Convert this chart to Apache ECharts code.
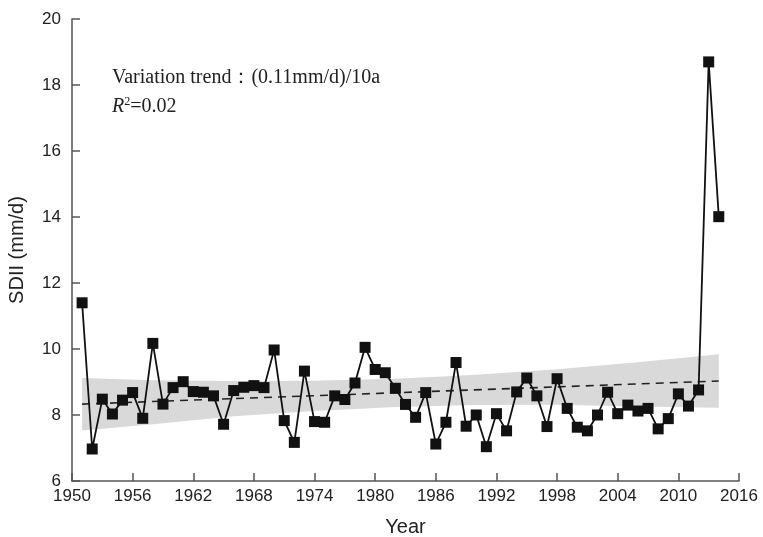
<!DOCTYPE html>
<html>
<head>
<meta charset="utf-8">
<script src="https://cdn.jsdelivr.net/npm/echarts@6/dist/echarts.min.js"></script>
<style>
  html, body { margin: 0; padding: 0; background: #fff; }
  #main { width: 763px; height: 537px; }
</style>
</head>
<body>
<div id="main"></div>
<script>
// yearly SDII values
const years = [
  1951, 1952, 1953, 1954, 1955, 1956, 1957, 1958, 1959, 1960,
  1961, 1962, 1963, 1964, 1965, 1966, 1967, 1968, 1969, 1970,
  1971, 1972, 1973, 1974, 1975, 1976, 1977, 1978, 1979, 1980,
  1981, 1982, 1983, 1984, 1985, 1986, 1987, 1988, 1989, 1990,
  1991, 1992, 1993, 1994, 1995, 1996, 1997, 1998, 1999, 2000,
  2001, 2002, 2003, 2004, 2005, 2006, 2007, 2008, 2009, 2010,
  2011, 2012, 2013, 2014
];
const sdii = [
  11.40, 6.97, 8.48, 8.03, 8.45, 8.68, 7.90, 10.17, 8.33, 8.83,
  9.01, 8.71, 8.69, 8.58, 7.72, 8.74, 8.84, 8.89, 8.83, 9.97,
  7.83, 7.17, 9.33, 7.80, 7.78, 8.58, 8.47, 8.97, 10.05, 9.38,
  9.28, 8.81, 8.32, 7.93, 8.68, 7.12, 7.78, 9.59, 7.66, 8.00,
  7.04, 8.04, 7.52, 8.70, 9.12, 8.58, 7.65, 9.10, 8.20, 7.63,
  7.52, 8.00, 8.69, 8.04, 8.30, 8.12, 8.20, 7.58, 7.89, 8.64,
  8.27, 8.76, 18.70, 14.01
];

// linear trend end points
const trendYears = [1951, 2014];
const trendValues = [8.33, 9.03];

// grey confidence band edges
const bandYears = [1951, 1958, 1966, 1974, 1982, 1990, 1998, 2006, 2014];
const bandLower = [7.53, 7.72, 7.96, 8.12, 8.24, 8.30, 8.31, 8.26, 8.22];
const bandUpper = [9.12, 9.05, 9.03, 9.04, 9.10, 9.22, 9.39, 9.60, 9.84];

const xTicks = { min: 1950, max: 2016, interval: 6 };
const yTicks = { min: 6, max: 20, interval: 2 };

const chart = echarts.init(document.getElementById('main'), null, { renderer: 'canvas' });

const axisColor = '#555';
const labelFont = { color: '#222', fontSize: 17, fontFamily: 'Liberation Sans' };

chart.setOption({
  animation: false,
  backgroundColor: '#fff',
  grid: { left: 72, right: 24, top: 19, bottom: 56, outerBoundsMode: 'none', containLabel: false },
  xAxis: {
    type: 'value',
    min: xTicks.min, max: xTicks.max, interval: xTicks.interval,
    name: 'Year',
    nameLocation: 'middle',
    nameGap: 36,
    nameTextStyle: { color: '#222', fontSize: 20, fontFamily: 'Liberation Sans' },
    axisLine: { lineStyle: { color: axisColor, width: 1.5 } },
    axisTick: { inside: true, length: 8, lineStyle: { color: axisColor, width: 1.5 } },
    axisLabel: Object.assign({ margin: 7, formatter: v => String(v) }, labelFont),
    splitLine: { show: false }
  },
  yAxis: {
    type: 'value',
    min: yTicks.min, max: yTicks.max, interval: yTicks.interval,
    name: 'SDII (mm/d)',
    nameLocation: 'middle',
    nameGap: 45,
    nameRotate: 90,
    nameTextStyle: { color: '#222', fontSize: 20, fontFamily: 'Liberation Sans' },
    axisLine: { show: true, lineStyle: { color: axisColor, width: 1.5 } },
    axisTick: { show: true, inside: true, length: 8, lineStyle: { color: axisColor, width: 1.5 } },
    axisLabel: Object.assign({ margin: 11 }, labelFont),
    splitLine: { show: false }
  },
  series: [
    {
      // confidence band as one polygon
      type: 'custom',
      silent: true,
      z: 1,
      data: [0],
      renderItem: function (params, api) {
        const pts = [];
        for (let i = 0; i < bandYears.length; i++) pts.push(api.coord([bandYears[i], bandUpper[i]]));
        for (let i = bandYears.length - 1; i >= 0; i--) pts.push(api.coord([bandYears[i], bandLower[i]]));
        return { type: 'polygon', shape: { points: pts }, style: { fill: '#d9d9d9' } };
      }
    },
    {
      type: 'line',
      z: 3,
      data: trendYears.map((y, i) => [y, trendValues[i]]),
      symbol: 'none',
      lineStyle: { color: '#222', width: 1.6, type: [8, 6] }
    },
    {
      type: 'line',
      z: 5,
      data: years.map((y, i) => [y, sdii[i]]),
      symbol: 'rect',
      symbolSize: 11,
      itemStyle: { color: '#111' },
      lineStyle: { color: '#111', width: 1.8 }
    }
  ],
  graphic: [
    {
      type: 'text',
      left: 112, top: 68,
      style: {
        text: 'Variation trend：(0.11mm/d)/10a',
        fontFamily: 'Liberation Serif',
        fontSize: 20,
        fill: '#222'
      }
    },
    {
      type: 'text',
      left: 112, top: 96,
      style: {
        text: '{i|R}{s|2}{n|=0.02}',
        rich: {
          i: { fontFamily: 'Liberation Serif', fontStyle: 'italic', fontSize: 20, fill: '#222' },
          s: { fontFamily: 'Liberation Serif', fontSize: 12, fill: '#222', verticalAlign: 'top', padding: [0, 0, 10, 0] },
          n: { fontFamily: 'Liberation Serif', fontSize: 20, fill: '#222' }
        }
      }
    }
  ]
});
</script>
</body>
</html>
